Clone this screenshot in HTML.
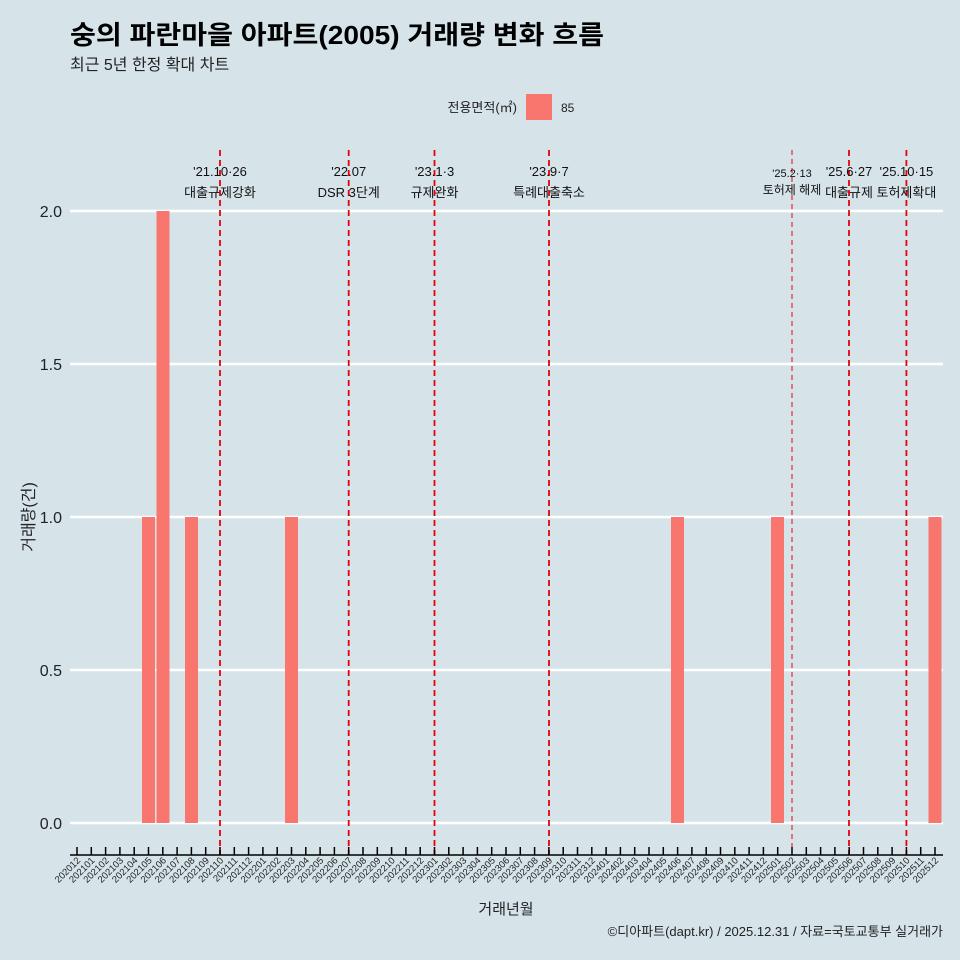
<!DOCTYPE html>
<html><head><meta charset="utf-8"><style>
html,body{margin:0;background:#d6e4ea;width:960px;height:960px;overflow:hidden;}
text{font-family:"Liberation Sans","Noto Sans CJK KR",sans-serif;}
</style></head><body>
<svg width="960" height="960" xmlns="http://www.w3.org/2000/svg" style="display:block">
<rect width="960" height="960" fill="#d6e4ea"/>
<text x="70" y="44" font-size="26" font-weight="bold" fill="#000" textLength="534" lengthAdjust="spacingAndGlyphs">숭의 파란마을 아파트(2005) 거래량 변화 흐름</text>
<text x="70" y="70" font-size="16" fill="#222">최근 5년 한정 확대 차트</text>
<text x="517" y="112" font-size="13" text-anchor="end" fill="#222">전용면적(㎡)</text>
<rect x="526" y="94" width="26" height="26" fill="#f8766d"/>
<text x="561" y="112" font-size="12" fill="#222">85</text>
<g stroke="#fff" stroke-width="2.5">
<line x1="70" x2="943" y1="211" y2="211"/><line x1="70" x2="943" y1="364" y2="364"/>
<line x1="70" x2="943" y1="517" y2="517"/><line x1="70" x2="943" y1="670" y2="670"/>
<line x1="70" x2="943" y1="823" y2="823"/>
</g>
<g font-size="16" fill="#222" text-anchor="end">
<text x="62" y="217">2.0</text><text x="62" y="370">1.5</text><text x="62" y="523">1.0</text><text x="62" y="676">0.5</text><text x="62" y="829">0.0</text>
</g>
<text transform="translate(34,517) rotate(-90)" font-size="16" text-anchor="middle" fill="#222">거래량(건)</text>
<g fill="#f8766d">
<rect x="142" y="517" width="13" height="306"/>
<rect x="156.5" y="211" width="13" height="612"/>
<rect x="185" y="517" width="13" height="306"/>
<rect x="285" y="517" width="13" height="306"/>
<rect x="671" y="517" width="13" height="306"/>
<rect x="771" y="517" width="13" height="306"/>
<rect x="928.5" y="517" width="13" height="306"/>
</g>
<g stroke="#e8000b" stroke-width="1.8" stroke-dasharray="6,4">
<line x1="220" x2="220" y1="150" y2="855"/><line x1="348.7" x2="348.7" y1="150" y2="855"/>
<line x1="434.5" x2="434.5" y1="150" y2="855"/><line x1="549" x2="549" y1="150" y2="855"/>
<line x1="849" x2="849" y1="150" y2="855"/><line x1="906.4" x2="906.4" y1="150" y2="855"/>
<line x1="792" x2="792" y1="150" y2="855" stroke-width="1" stroke-dasharray="5,4"/>
</g>
<g font-size="13" fill="#111" text-anchor="middle">
<text x="220" y="176">'21.10·26</text><text x="220" y="197">대출규제강화</text>
<text x="348.7" y="176">'22.07</text><text x="348.7" y="197">DSR 3단계</text>
<text x="434.5" y="176">'23.1·3</text><text x="434.5" y="197">규제완화</text>
<text x="549" y="176">'23.9·7</text><text x="549" y="197">특례대출축소</text>
<text x="792" y="177" font-size="11">'25.2·13</text><text x="792" y="194" font-size="12">토허제 해제</text>
<text x="849" y="176">'25.6·27</text><text x="849" y="197">대출규제</text>
<text x="906.4" y="176">'25.10·15</text><text x="906.4" y="197">토허제확대</text>
</g>
<line x1="70" x2="943" y1="855" y2="855" stroke="#000" stroke-width="1.5"/>
<g id="ticks" stroke="#000" stroke-width="1.5"></g>
<g id="labs" font-size="9.5" fill="#222" text-anchor="end"></g>
<text x="506" y="914" font-size="15" text-anchor="middle" fill="#222">거래년월</text>
<text x="943" y="936" font-size="13" text-anchor="end" fill="#222">©디아파트(dapt.kr) / 2025.12.31 / 자료=국토교통부 실거래가</text>
<script>
var t=document.getElementById('ticks'),l=document.getElementById('labs'),ns='http://www.w3.org/2000/svg';
for(var i=0;i<61;i++){var x=77+i*14.3;var ln=document.createElementNS(ns,'line');
ln.setAttribute('x1',x);ln.setAttribute('x2',x);ln.setAttribute('y1',847);ln.setAttribute('y2',855);t.appendChild(ln);
var m=(11+i)%12+1,y=2020+Math.floor((11+i)/12);var tx=document.createElementNS(ns,'text');
tx.setAttribute('transform','translate('+(x+4)+',861) rotate(-45)');tx.textContent=y+(m<10?'0':'')+m;l.appendChild(tx);}
</script>
</svg>
</body></html>
